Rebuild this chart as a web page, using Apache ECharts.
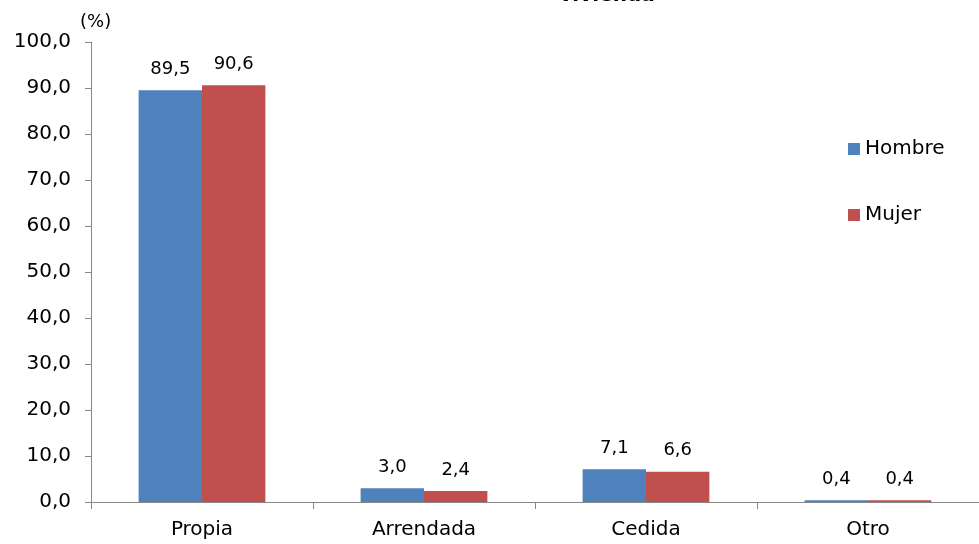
<!DOCTYPE html>
<html><head><meta charset="utf-8">
<script src="https://cdn.jsdelivr.net/npm/echarts@6/dist/echarts.min.js"></script>
<style>html,body{margin:0;padding:0;background:#fff}#c{width:979px;height:544px}</style>
</head><body><div id="c"></div>
<script>
const categories = ['Propia', 'Arrendada', 'Cedida', 'Otro'];
const hombre = [89.5, 3.0, 7.1, 0.4];
const mujer = [90.6, 2.4, 6.6, 0.4];
const seriesNames = ['Hombre', 'Mujer'];
const yTicks = [0, 10, 20, 30, 40, 50, 60, 70, 80, 90, 100];

const fmt = v => Number(v).toFixed(1).replace('.', ',');
const FONT = 'DejaVu Sans';
const chart = echarts.init(document.getElementById('c'));
chart.setOption({
  animation: false,
  textStyle: { fontFamily: FONT },
  title: {
    text: 'vivienda', left: 602, top: -19, textAlign: 'center',
    textStyle: { fontFamily: FONT, fontSize: 20, fontWeight: 'bold', color: '#000' }
  },
  graphic: [{ type: 'text', left: 80, top: 13, style: { text: '(%)', font: '18px "DejaVu Sans"', fill: '#000' } }],
  legend: {
    orient: 'vertical', left: 843, top: 134, itemGap: 46,
    itemWidth: 12, itemHeight: 12, icon: 'rect',
    textStyle: { fontFamily: FONT, fontSize: 20, color: '#000' },
    data: seriesNames
  },
  grid: { left: 91, top: 42, width: 896, height: 460, containLabel: false },
  xAxis: {
    type: 'category', data: categories,
    axisLine: { lineStyle: { color: '#868686', width: 1 } },
    axisTick: { show: true, length: 7, lineStyle: { color: '#868686' } },
    axisLabel: { fontFamily: FONT, fontSize: 20, color: '#000', margin: 18 }
  },
  yAxis: {
    type: 'value', min: yTicks[0], max: yTicks[yTicks.length - 1], interval: 10,
    axisLine: { show: true, lineStyle: { color: '#868686' } },
    axisTick: { show: true, length: 6, lineStyle: { color: '#868686' } },
    splitLine: { show: false },
    axisLabel: { fontFamily: FONT, fontSize: 20, color: '#000', margin: 20, formatter: fmt }
  },
  series: [
    { name: seriesNames[0], type: 'bar', data: hombre, barGap: '0%', barCategoryGap: '42.9%',
      itemStyle: { color: '#4F81BD' },
      label: { show: true, position: 'top', distance: 12, fontFamily: FONT, fontSize: 18, color: '#000', formatter: p => fmt(p.value) } },
    { name: seriesNames[1], type: 'bar', data: mujer, barGap: '0%', barCategoryGap: '42.9%',
      itemStyle: { color: '#C0504D' },
      label: { show: true, position: 'top', distance: 12, fontFamily: FONT, fontSize: 18, color: '#000', formatter: p => fmt(p.value) } }
  ]
});
</script></body></html>
